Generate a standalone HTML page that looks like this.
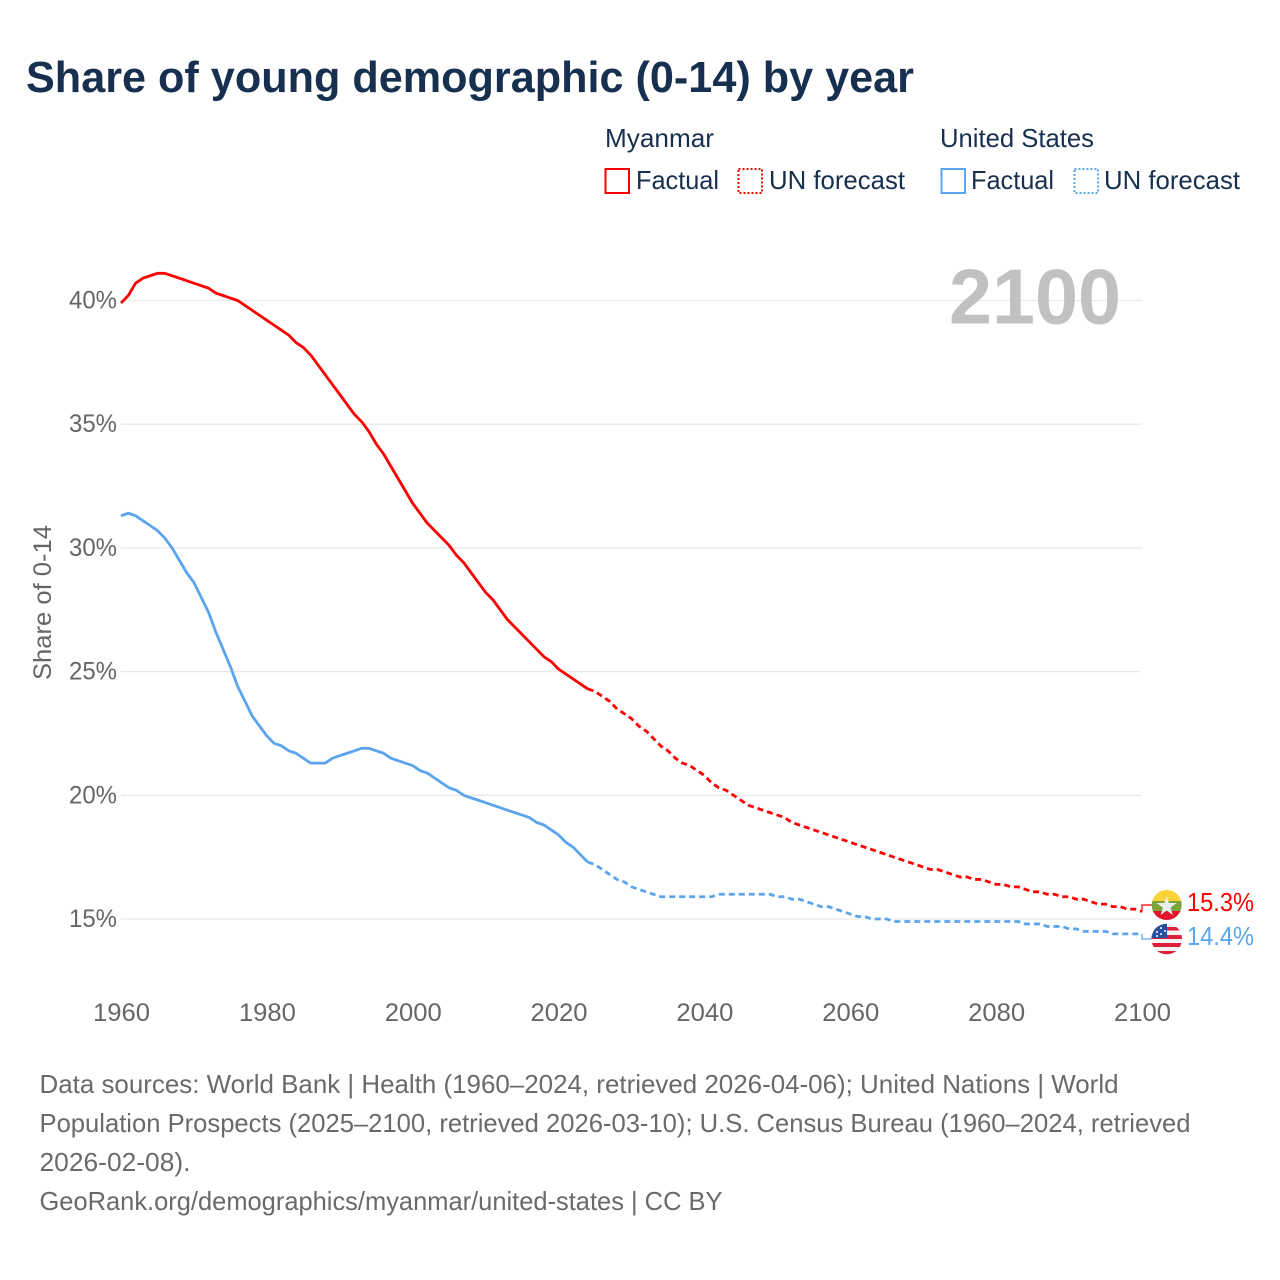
<!DOCTYPE html>
<html lang="en">
<head>
<meta charset="utf-8">
<title>Share of young demographic (0-14) by year</title>
<style>
html,body{margin:0;padding:0;background:#fff;}
svg{display:block;}
text{font-family:"Liberation Sans",sans-serif;}
</style>
</head>
<body>
<svg id="chart" width="1280" height="1280" viewBox="0 0 1280 1280" xmlns="http://www.w3.org/2000/svg">
  <defs>
    <clipPath id="clip-mm"><circle cx="1166.7" cy="905" r="15"/></clipPath>
    <clipPath id="clip-us"><circle cx="1166.7" cy="939" r="15.3"/></clipPath>
  </defs>
  <rect width="1280" height="1280" fill="#fff"/>
  <text x="26" y="92" font-size="44" font-weight="700" fill="#17304f" textLength="888" lengthAdjust="spacingAndGlyphs">Share of young demographic (0-14) by year</text>

  <g font-size="26" fill="#17304f">
    <text x="605" y="147" textLength="109" lengthAdjust="spacingAndGlyphs">Myanmar</text>
    <rect x="605.5" y="169" width="23.5" height="24" fill="none" stroke="#f00" stroke-width="2"/>
    <text x="636" y="189" textLength="83" lengthAdjust="spacingAndGlyphs">Factual</text>
    <rect x="738.5" y="169" width="23.5" height="24" fill="none" stroke="#f00" stroke-width="2" stroke-dasharray="2 2"/>
    <text x="769" y="189" textLength="136" lengthAdjust="spacingAndGlyphs">UN forecast</text>
    <text x="940" y="147" textLength="154" lengthAdjust="spacingAndGlyphs">United States</text>
    <rect x="941.5" y="169" width="23.5" height="24" fill="none" stroke="#5ba4ee" stroke-width="2"/>
    <text x="971" y="189" textLength="83" lengthAdjust="spacingAndGlyphs">Factual</text>
    <rect x="1074.5" y="169" width="23.5" height="24" fill="none" stroke="#5ba4ee" stroke-width="2" stroke-dasharray="2 2"/>
    <text x="1104" y="189" textLength="136" lengthAdjust="spacingAndGlyphs">UN forecast</text>
  </g>

  <g id="grid"></g>
  <g id="ytick-labels"></g>
  <g id="xtick-labels"></g>

  <text x="949" y="323.5" font-size="78" font-weight="700" fill="#c1c1c1" textLength="172" lengthAdjust="spacingAndGlyphs">2100</text>
  <text transform="translate(51,680) rotate(-90)" font-size="25" fill="#666" textLength="155" lengthAdjust="spacingAndGlyphs">Share of 0-14</text>

  <g id="series"></g>

  <g clip-path="url(#clip-mm)">
    <rect x="1150" y="889" width="34" height="13" fill="#fbd334"/>
    <rect x="1150" y="901" width="34" height="11" fill="#7da43a"/>
    <rect x="1150" y="911" width="34" height="10" fill="#e2132f"/>
    <polygon points="1166.7,896 1169,903 1176.7,903 1170.5,907.6 1172.8,915 1166.7,910.5 1160.6,915 1162.9,907.6 1156.7,903 1164.4,903" fill="#eeeeee"/>
  </g>
  <g clip-path="url(#clip-us)">
    <rect x="1150" y="923" width="34" height="33" fill="#f2f2f2"/>
    <rect x="1150" y="927" width="34" height="3.5" fill="#dd1f3a"/>
    <rect x="1150" y="935" width="34" height="4" fill="#dd1f3a"/>
    <rect x="1150" y="943" width="34" height="4" fill="#dd1f3a"/>
    <rect x="1150" y="951" width="34" height="5" fill="#dd1f3a"/>
    <rect x="1150" y="923" width="17" height="15" fill="#2450a4"/>
    <circle cx="1157" cy="932" r="1" fill="#fff"/><circle cx="1161" cy="928" r="1" fill="#fff"/><circle cx="1161" cy="934" r="1" fill="#fff"/><circle cx="1165" cy="931" r="1" fill="#fff"/><circle cx="1157" cy="936" r="1" fill="#fff"/>
  </g>

  <g id="end-labels"></g>

  <g font-size="26" fill="#6a6a6a">
    <text x="39.5" y="1093" textLength="1079" lengthAdjust="spacingAndGlyphs">Data sources: World Bank | Health (1960–2024, retrieved 2026-04-06); United Nations | World</text>
    <text x="39.5" y="1132" textLength="1151" lengthAdjust="spacingAndGlyphs">Population Prospects (2025–2100, retrieved 2026-03-10); U.S. Census Bureau (1960–2024, retrieved</text>
    <text x="39.5" y="1171" textLength="151" lengthAdjust="spacingAndGlyphs">2026-02-08).</text>
    <text x="39.5" y="1210" textLength="683" lengthAdjust="spacingAndGlyphs">GeoRank.org/demographics/myanmar/united-states | CC BY</text>
  </g>
</svg>
<script>
const factualStartYear = 1960;
const forecastStartYear = 2024;
const yTickValues = [40, 35, 30, 25, 20, 15];
const yTickLabels = ["40%", "35%", "30%", "25%", "20%", "15%"];
const xTickValues = [1960, 1980, 2000, 2020, 2040, 2060, 2080, 2100];
const xTickLabels = ["1960", "1980", "2000", "2020", "2040", "2060", "2080", "2100"];

const myanmarFactual = [
  39.9,40.2,40.7,40.9,41.0,41.1,41.1,41.0,40.9,40.8,
  40.7,40.6,40.5,40.3,40.2,40.1,40.0,39.8,39.6,39.4,
  39.2,39.0,38.8,38.6,38.3,38.1,37.8,37.4,37.0,36.6,
  36.2,35.8,35.4,35.1,34.7,34.2,33.8,33.3,32.8,32.3,
  31.8,31.4,31.0,30.7,30.4,30.1,29.7,29.4,29.0,28.6,
  28.2,27.9,27.5,27.1,26.8,26.5,26.2,25.9,25.6,25.4,
  25.1,24.9,24.7,24.5,24.3
];
const myanmarForecast = [
  24.3,24.2,24.0,23.8,23.5,23.3,23.1,22.8,22.6,22.3,22.0,
  21.8,21.5,21.3,21.2,21.0,20.8,20.5,20.3,20.2,20.0,
  19.8,19.6,19.5,19.4,19.3,19.2,19.1,18.9,18.8,18.7,
  18.6,18.5,18.4,18.3,18.2,18.1,18.0,17.9,17.8,17.7,
  17.6,17.5,17.4,17.3,17.2,17.1,17.0,17.0,16.9,16.8,
  16.7,16.7,16.6,16.6,16.5,16.4,16.4,16.3,16.3,16.2,
  16.1,16.1,16.0,16.0,15.9,15.9,15.8,15.8,15.7,15.6,
  15.6,15.5,15.5,15.4,15.4,15.3
];
const usFactual = [
  31.3,31.4,31.3,31.1,30.9,30.7,30.4,30.0,29.5,29.0,
  28.6,28.0,27.4,26.6,25.9,25.2,24.4,23.8,23.2,22.8,
  22.4,22.1,22.0,21.8,21.7,21.5,21.3,21.3,21.3,21.5,
  21.6,21.7,21.8,21.9,21.9,21.8,21.7,21.5,21.4,21.3,
  21.2,21.0,20.9,20.7,20.5,20.3,20.2,20.0,19.9,19.8,
  19.7,19.6,19.5,19.4,19.3,19.2,19.1,18.9,18.8,18.6,
  18.4,18.1,17.9,17.6,17.3
];
const usForecast = [
  17.3,17.2,17.0,16.8,16.6,16.5,16.3,16.2,16.1,16.0,15.9,
  15.9,15.9,15.9,15.9,15.9,15.9,15.9,16.0,16.0,16.0,
  16.0,16.0,16.0,16.0,16.0,15.9,15.9,15.8,15.8,15.7,
  15.6,15.5,15.5,15.4,15.3,15.2,15.1,15.1,15.0,15.0,
  15.0,14.9,14.9,14.9,14.9,14.9,14.9,14.9,14.9,14.9,
  14.9,14.9,14.9,14.9,14.9,14.9,14.9,14.9,14.9,14.8,
  14.8,14.8,14.7,14.7,14.7,14.6,14.6,14.5,14.5,14.5,
  14.5,14.4,14.4,14.4,14.4,14.4
];

const NS = "http://www.w3.org/2000/svg";
const RED = "#ff0000";
const BLUE = "#5ba4ee";
const x0 = 121, x1 = 1142, y15 = 919, pxPerPct = 24.74;
function xScale(year) { return x0 + (year - 1960) * (x1 - x0) / 140; }
function yScale(v) { return y15 - (v - 15) * pxPerPct; }
function make(tag, parent, attrs, text) {
  const el = document.createElementNS(NS, tag);
  for (const k in attrs) el.setAttribute(k, attrs[k]);
  if (text !== undefined) el.textContent = text;
  parent.appendChild(el);
  return el;
}
function pathFor(values, startYear) {
  return values.map((v, i) => (i ? "L" : "M") + xScale(startYear + i).toFixed(2) + " " + yScale(v).toFixed(2)).join(" ");
}

const grid = document.getElementById("grid");
const yLabels = document.getElementById("ytick-labels");
const xLabels = document.getElementById("xtick-labels");
const series = document.getElementById("series");
const endLabels = document.getElementById("end-labels");

yTickValues.forEach((v, i) => {
  const line = make("line", grid, {x1: x0, x2: x1 - 0.5, y1: yScale(v), y2: yScale(v), stroke: "#e9e9e9", "stroke-width": 1.3});
  
  
  const label = make("text", yLabels, {x: 117, y: yScale(v) + 8, "text-anchor": "end", "font-size": 25, fill: "#666", textLength: 48, lengthAdjust: "spacingAndGlyphs"}, yTickLabels[i]);
  
  
});

xTickValues.forEach((year, i) => {
  const label = make("text", xLabels, {x: xScale(year) + 0.5, y: 1021, "text-anchor": "middle", "font-size": 25, fill: "#666", textLength: 57, lengthAdjust: "spacingAndGlyphs"}, xTickLabels[i]);
  
  
});

const lineStyle = {fill: "none", "stroke-width": 2.8, "stroke-linejoin": "round"};

const usFactualLine = make("path", series, Object.assign({d: pathFor(usFactual, factualStartYear), stroke: BLUE}, lineStyle));



const usForecastLine = make("path", series, Object.assign({d: pathFor(usForecast, forecastStartYear), stroke: BLUE, "stroke-dasharray": "6 4"}, lineStyle));



const mmFactualLine = make("path", series, Object.assign({d: pathFor(myanmarFactual, factualStartYear), stroke: RED}, lineStyle));



const mmForecastLine = make("path", series, Object.assign({d: pathFor(myanmarForecast, forecastStartYear), stroke: RED, "stroke-dasharray": "6 4"}, lineStyle));



const mmLast = myanmarForecast[myanmarForecast.length - 1];
const usLast = usForecast[usForecast.length - 1];

const mmConnector = make("path", series, {d: "M" + x1 + " " + yScale(mmLast) + " V905 H1153", fill: "none", stroke: RED, "stroke-width": 1.2});



const usConnector = make("path", series, {d: "M" + x1 + " " + yScale(usLast) + " V939 H1153", fill: "none", stroke: BLUE, "stroke-width": 1.2});



const mmEnd = make("text", endLabels, {x: 1187, y: 911, "font-size": 26, fill: RED, textLength: 67, lengthAdjust: "spacingAndGlyphs"}, mmLast.toFixed(1) + "%");



const usEnd = make("text", endLabels, {x: 1187, y: 945, "font-size": 26, fill: BLUE, textLength: 67, lengthAdjust: "spacingAndGlyphs"}, usLast.toFixed(1) + "%");


</script>
</body>
</html>
